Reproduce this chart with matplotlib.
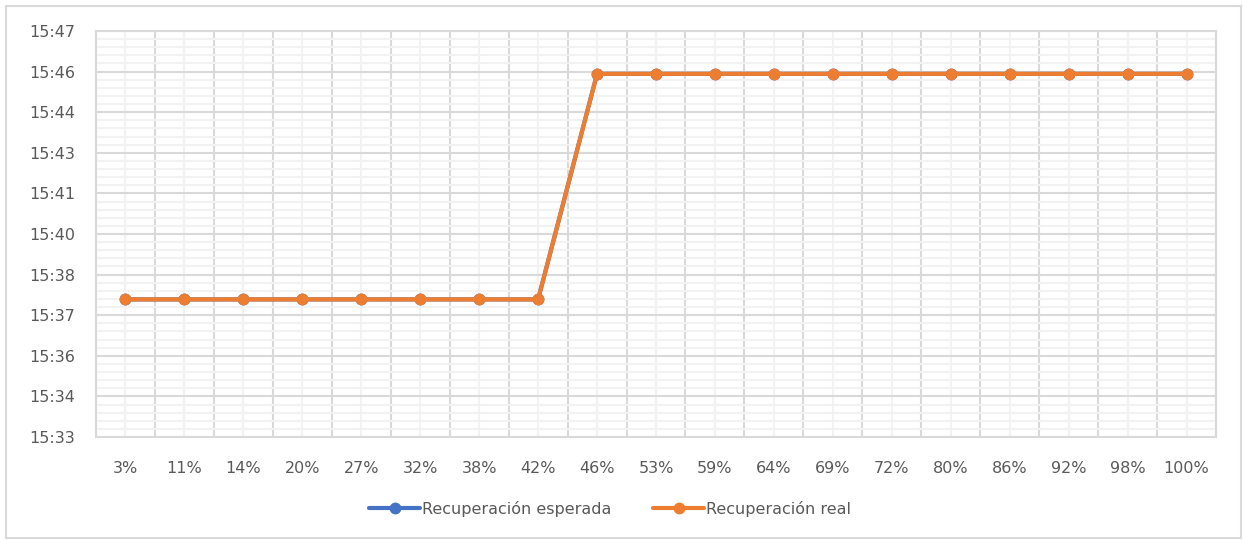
import numpy as np
import matplotlib
matplotlib.use("Agg")
from matplotlib import pyplot as plt
from matplotlib.patches import Rectangle
from matplotlib.ticker import FixedLocator, FuncFormatter, MultipleLocator

plt.rcParams['font.family'] = ['DejaVu Sans']

# x categories (recovery percentage)
categories = ['3%', '11%', '14%', '20%', '27%', '32%', '38%', '42%', '46%', '53%',
              '59%', '64%', '69%', '72%', '80%', '86%', '92%', '98%', '100%']

# times as "HH:MM" strings, converted to day fractions like Excel does
esperada_hm = ['15:38'] * 8 + ['15:46'] * 11
real_hm = ['15:38'] * 8 + ['15:46'] * 11

def to_day(hm):
    h, m = hm.split(':')
    return (int(h) * 60 + int(m)) / 1440.0

esperada = [to_day(t) for t in esperada_hm]
real = [to_day(t) for t in real_hm]

def fmt_time(v, pos):
    # Excel shows hh:mm truncated
    total = int(v * 1440 + 1e-6)
    return '%d:%02d' % (total // 60, total % 60)

fig = plt.figure(figsize=(12.43, 5.4), dpi=100)
fig.patches.append(Rectangle((6 / 1243, 2 / 540), 1235 / 1243, 532 / 540,
                             transform=fig.transFigure, fill=False,
                             edgecolor='#D9D9D9', lw=1.5))

ax = fig.add_axes([96 / 1243, 1 - 437 / 540, 1120 / 1243, 406 / 540])

x = np.arange(len(categories))
ax.plot(x, esperada, color='#4472C4', lw=3, marker='o', ms=7.5,
        label='Recuperación esperada', solid_capstyle='round', zorder=3)
ax.plot(x, real, color='#ED7D31', lw=3, marker='o', ms=7.5,
        label='Recuperación real', solid_capstyle='round', zorder=4)

ax.set_xlim(-0.5, len(categories) - 0.5)
ax.set_ylim(0.648, 0.658)

ax.set_xticks(x)
ax.set_xticklabels(categories)
ax.xaxis.set_minor_locator(FixedLocator(np.arange(-0.5, len(categories), 1.0)))
ax.yaxis.set_major_locator(MultipleLocator(0.001))
ax.yaxis.set_minor_locator(MultipleLocator(0.0002))
ax.yaxis.set_major_formatter(FuncFormatter(fmt_time))

ax.tick_params(which='both', length=0)
ax.tick_params(axis='both', labelsize=11.5, labelcolor='#595959')
ax.tick_params(axis='x', pad=17)
ax.tick_params(axis='y', pad=15)

# vertical: major lines between categories, light lines at centres
ax.grid(True, axis='x', which='major', color='#F2F2F2', lw=1.5, zorder=0)
ax.grid(True, axis='x', which='minor', color='#D9D9D9', lw=1.5, zorder=1)
ax.grid(True, axis='y', which='minor', color='#F2F2F2', lw=1.5, zorder=0)
ax.grid(True, axis='y', which='major', color='#D9D9D9', lw=1.5, zorder=1)
ax.set_axisbelow(True)

for s in ax.spines.values():
    s.set_color('#D9D9D9')
    s.set_linewidth(1.5)

leg = fig.legend(loc='center', bbox_to_anchor=(610 / 1243, 1 - 509 / 540), ncol=2,
                 frameon=False, fontsize=11.5, handlelength=3.2, handletextpad=0.1,
                 columnspacing=2.6)
for t in leg.get_texts():
    t.set_color('#595959')

fig.savefig('out.png', dpi=100)
